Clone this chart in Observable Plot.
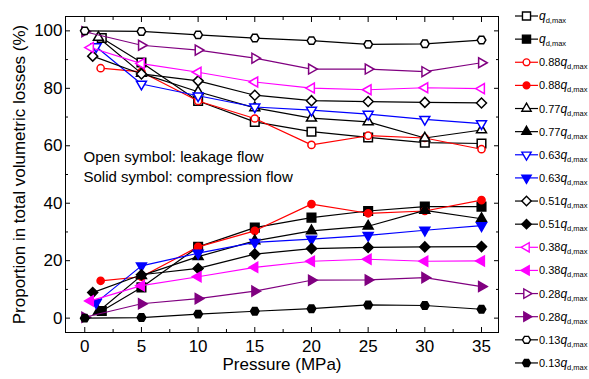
<!DOCTYPE html>
<html>
<head>
<meta charset="utf-8">
<script src="https://cdn.jsdelivr.net/npm/d3@7"></script>
<script src="https://cdn.jsdelivr.net/npm/@observablehq/plot@0.6"></script>
<style>
  html, body { margin: 0; padding: 0; background: #fff; }
  #chart { width: 589px; height: 379px; }
  svg { font-family: "Liberation Sans", Arial, sans-serif; }
</style>
</head>
<body>
<div id="chart"></div>
<script>
// ---- Data ----
const flowLabels = ["", "0.88", "0.77", "0.63", "0.51", "0.38", "0.28", "0.13"];
const seriesColors = ["#000000", "#ff0000", "#000000", "#0000ff", "#000000", "#ff00ff", "#800080", "#000000"];
const symbolNames = ["square", "circle", "triangleUp", "triangleDown", "diamond", "triangleLeft", "triangleRight", "hexagon"];
const startPressure = [1.5, 1.4, 1.2, 1.0, 0.7, 0.5, 0, 0];
const pressureSteps = [5, 10, 15, 20, 25, 30, 35];

const leak100 = [97.5, 89.0, 75.6, 68.3, 64.9, 62.9, 61.1, 60.8];
const comp100 = [2.5, 10.7, 24.8, 31.5, 35.0, 37.3, 38.8, 38.8];
const leak088 = [87.0, 85.7, 75.6, 69.5, 60.3, 63.5, 62.7, 58.8];
const comp088 = [13.0, 14.4, 24.8, 30.4, 39.7, 36.5, 37.3, 41.1];
const leak077 = [97.7, 85.2, 78.8, 73.2, 69.6, 68.3, 62.7, 65.5];
const comp077 = [2.3, 14.8, 21.4, 26.9, 30.4, 32.0, 37.5, 34.6];
const leak063 = [94.5, 81.5, 77.4, 73.5, 72.4, 71.0, 69.2, 67.7];
const comp063 = [5.4, 18.2, 22.6, 26.4, 27.5, 28.8, 30.6, 32.2];
const leak051 = [91.2, 85.0, 82.6, 77.6, 75.7, 75.4, 75.1, 74.9];
const comp051 = [8.9, 15.1, 17.3, 22.3, 24.2, 24.6, 24.8, 24.9];
const leak038 = [94.2, 88.6, 85.6, 82.2, 80.1, 79.5, 80.2, 79.9];
const comp038 = [6.0, 11.3, 14.4, 17.7, 19.8, 20.5, 19.8, 19.9];
const leak028 = [99.7, 95.0, 93.3, 90.5, 86.7, 86.7, 85.8, 88.9];
const comp028 = [0.3, 5.0, 6.8, 9.4, 13.2, 13.3, 14.1, 11.0];
const leak013 = [100.0, 99.8, 98.6, 97.5, 96.6, 95.3, 95.5, 96.8];
const comp013 = [0.0, 0.2, 1.4, 2.4, 3.3, 4.6, 4.4, 3.1];

const leakSeries = [leak100, leak088, leak077, leak063, leak051, leak038, leak028, leak013];
const compSeries = [comp100, comp088, comp077, comp063, comp051, comp038, comp028, comp013];

const xTickValues = [0, 5, 10, 15, 20, 25, 30, 35];
const xMinorTicks = [2.5, 7.5, 12.5, 17.5, 22.5, 27.5, 32.5];
const yTickValues = [0, 20, 40, 60, 80, 100];
const yMinorTicks = [10, 30, 50, 70, 90];

// ---- Symbols ----
function polySymbol(angles, k) {
  return {
    draw(ctx, size) {
      const r = Math.sqrt(size / Math.PI) * k;
      angles.forEach((a, i) => {
        const t = a * Math.PI / 180;
        const px = r * Math.cos(t), py = r * Math.sin(t);
        if (i === 0) ctx.moveTo(px, py); else ctx.lineTo(px, py);
      });
      ctx.closePath();
    }
  };
}
const symbols = {
  square: polySymbol([45, 135, 225, 315], 0.86 * Math.SQRT2),
  circle: { draw(ctx, size) { const r = Math.sqrt(size / Math.PI) * 0.72; ctx.moveTo(r, 0); ctx.arc(0, 0, r, 0, 2 * Math.PI); } },
  triangleUp: polySymbol([-90, 30, 150], 1.15),
  triangleDown: polySymbol([90, 210, 330], 1.15),
  triangleLeft: polySymbol([180, 300, 60], 1.15),
  triangleRight: polySymbol([0, 120, 240], 1.15),
  diamond: polySymbol([0, 90, 180, 270], 1.0),
  hexagon: polySymbol([0, 60, 120, 180, 240, 300], 0.86)
};

// ---- Rows ----
function rowsFor(i, values) {
  const xs = [startPressure[i], ...pressureSteps];
  return values.map((v, j) => ({ x: xs[j], y: v }));
}

const marks = [];
for (let i = 0; i < 8; i++) {
  const col = seriesColors[i];
  const sym = symbols[symbolNames[i]];
  const leakRows = rowsFor(i, leakSeries[i]);
  const compRows = rowsFor(i, compSeries[i]);
  marks.push(Plot.line(leakRows, { x: "x", y: "y", stroke: col, strokeWidth: 1.2 }));
  marks.push(Plot.dot(leakRows, { x: "x", y: "y", symbol: sym, r: 5, stroke: col, fill: "white", strokeWidth: 1.5 }));
  marks.push(Plot.line(compRows, { x: "x", y: "y", stroke: col, strokeWidth: 1.2 }));
  marks.push(Plot.dot(compRows, { x: "x", y: "y", symbol: sym, r: 5, stroke: col, fill: col, strokeWidth: 1.5 }));
}

const chart = Plot.plot({
  width: 589,
  height: 379,
  marginLeft: 65,
  marginRight: 91,
  marginTop: 16,
  marginBottom: 47,
  x: { domain: [-1.7, 36.5] },
  y: { domain: [-5, 105] },
  style: { fontFamily: "'Liberation Sans', Arial, sans-serif", background: "white", color: "black", overflow: "visible" },
  marks: [
    Plot.frame({ stroke: "black", strokeWidth: 1 }),
    Plot.axisX(xTickValues, { anchor: "bottom", tickSize: -5, tickPadding: 12, label: null, fontSize: 17, tickFormat: d => String(d) }),
    Plot.axisX(xMinorTicks, { anchor: "bottom", tickSize: -3, fill: "none", label: null }),
    Plot.axisX(xTickValues, { anchor: "top", tickSize: -5, fill: "none", label: null }),
    Plot.axisX(xMinorTicks, { anchor: "top", tickSize: -3, fill: "none", label: null }),
    Plot.axisY(yTickValues, { anchor: "left", tickSize: -5, tickPadding: 8, label: null, fontSize: 17, tickFormat: d => String(d) }),
    Plot.axisY(yMinorTicks, { anchor: "left", tickSize: -3, fill: "none", label: null }),
    Plot.axisY(yTickValues, { anchor: "right", tickSize: -5, fill: "none", label: null }),
    Plot.axisY(yMinorTicks, { anchor: "right", tickSize: -3, fill: "none", label: null }),
    Plot.text(["Pressure (MPa)"], { frameAnchor: "bottom", textAnchor: "middle", lineAnchor: "middle", dy: 32, fontSize: 17 }),
    Plot.text(["Proportion in total volumetric losses (%)"], { frameAnchor: "left", textAnchor: "middle", lineAnchor: "middle", rotate: -90, dx: -46, fontSize: 17 }),
    Plot.text(["Open symbol: leakage flow"], { frameAnchor: "top-left", textAnchor: "start", lineAnchor: "middle", dx: 18, dy: 141, fontSize: 15 }),
    Plot.text(["Solid symbol: compression flow"], { frameAnchor: "top-left", textAnchor: "start", lineAnchor: "middle", dx: 18, dy: 161, fontSize: 15 }),
    ...marks
  ]
});

document.getElementById("chart").appendChild(chart);

// ---- Legend (drawn into the SVG, to the right of the frame) ----
const svg = d3.select(chart.tagName.toLowerCase() === "svg" ? chart : chart.querySelector("svg"));
const leg = svg.append("g").attr("font-family", "'Liberation Sans', Arial, sans-serif").attr("text-anchor", "start");
for (let i = 0; i < 8; i++) {
  for (let j = 0; j < 2; j++) {
    const row = i * 2 + j;
    const yy = 16 + row * 23.13;
    const col = seriesColors[i];
    const g = leg.append("g").attr("transform", `translate(0,${yy})`);
    g.append("line").attr("x1", 515).attr("x2", 538).attr("y1", 0).attr("y2", 0)
      .attr("stroke", col).attr("stroke-width", 1.2);
    const p = d3.path();
    symbols[symbolNames[i]].draw(p, 22 * Math.PI);
    g.append("path").attr("d", p.toString()).attr("transform", "translate(526.5,0)")
      .attr("stroke", col).attr("stroke-width", 1.4).attr("fill", j === 0 ? "white" : col);
    const t = g.append("text").attr("x", 539).attr("y", 4).attr("font-size", 11)
      .attr("text-anchor", "start").attr("fill", "black");
    if (flowLabels[i]) t.append("tspan").text(flowLabels[i]);
    t.append("tspan").attr("font-style", "italic").attr("font-size", 12).text("q");
    t.append("tspan").attr("font-size", 7.5).attr("dy", 3).text("d,max");
  }
}
</script>
</body>
</html>
